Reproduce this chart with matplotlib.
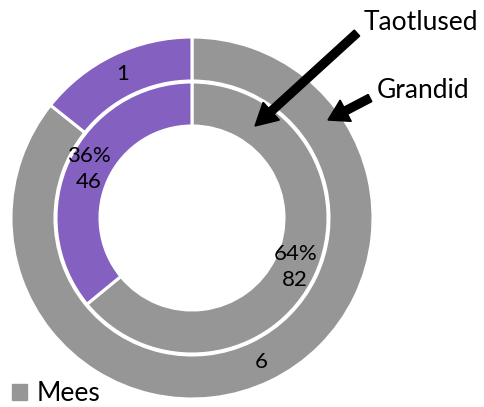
import matplotlib.pyplot as plt
from matplotlib.patches import Patch

# data
groups = ['Mees', 'Naine']
grandid = [6, 1]        # outer ring
taotlused = [82, 46]    # inner ring
colors = ['#969696', '#8460C0']

W, H = 485, 407
plt.rcParams['font.family'] = ['Lato', 'DejaVu Sans']

fig = plt.figure(figsize=(W / 100, H / 100), dpi=100)
ax = fig.add_axes([0, 0, 1, 1])
ax.set_xlim(0, W)
ax.set_ylim(0, H)
ax.set_aspect('equal')
ax.axis('off')

cx, cy = 192, H - 218

def outer_lbl(p):
    return '%d' % round(p * sum(grandid) / 100)

def inner_lbl(p):
    return '%d%%\n%d' % (round(p), round(p * sum(taotlused) / 100))

w_out, t1, t2 = ax.pie(grandid, colors=colors, radius=181, center=(cx, cy),
                       startangle=90, counterclock=False,
                       wedgeprops=dict(width=44, edgecolor='white', linewidth=2.2),
                       autopct=outer_lbl, pctdistance=0.88,
                       textprops=dict(fontsize=16, color='black'))
w_in, t3, t4 = ax.pie(taotlused, colors=colors, radius=136, center=(cx, cy),
                      startangle=90, counterclock=False,
                      wedgeprops=dict(width=44, edgecolor='white', linewidth=2.2),
                      autopct=inner_lbl, pctdistance=0.84,
                      textprops=dict(fontsize=16, color='black', linespacing=1.35))
ax.set_xlim(0, W)
ax.set_ylim(0, H)

# callouts
ax.arrow(357, H - 33, 255 - 357, 33 - 126, width=8, head_width=24, head_length=22,
         length_includes_head=True, color='black')
ax.arrow(370, H - 98, 328 - 370, 98 - 120, width=8, head_width=24, head_length=20,
         length_includes_head=True, color='black')
ax.text(364, H - 22, 'Taotlused', fontsize=19, va='center', ha='left')
ax.text(377, H - 91, 'Grandid', fontsize=19, va='center', ha='left')

ax.legend(handles=[Patch(color=colors[0], label=groups[0])], loc='lower left',
          bbox_to_anchor=(12, 1), bbox_transform=ax.transData, frameon=False,
          fontsize=19, handlelength=0.55, handleheight=0.55, handletextpad=0.4,
          borderaxespad=0, borderpad=0)

fig.savefig('out.png', dpi=100)
